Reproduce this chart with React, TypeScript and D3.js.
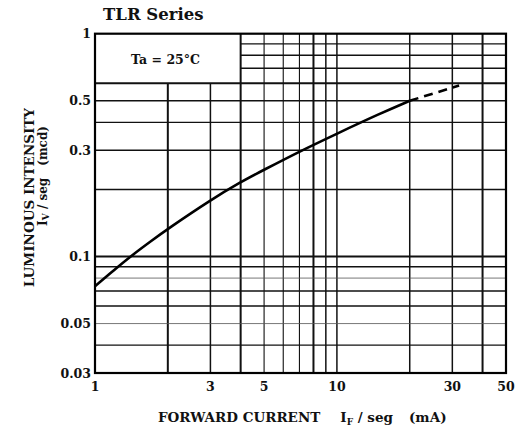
import { useMemo } from "react";
import * as d3 from "d3";

// forward current (mA) vs luminous intensity (mcd), log-log
const curveIF = [1, 1.2, 1.4, 1.7, 2, 3, 4, 5, 7, 10, 15, 20];
const curveIV = [0.0735, 0.087, 0.1, 0.117, 0.133, 0.179, 0.216, 0.245, 0.296, 0.356, 0.437, 0.5];
const dashIF = [20, 32];
const dashIV = [0.5, 0.585];

const xTicks = [1, 3, 5, 10, 30, 50];
const yTicks = [0.03, 0.05, 0.1, 0.3, 0.5, 1];
const xGrid = [2, 3, 4, 5, 6, 7, 8, 9, 10, 20, 30, 40];
const yGrid = [0.04, 0.05, 0.06, 0.07, 0.08, 0.09, 0.1, 0.2, 0.3, 0.4, 0.5, 0.6, 0.7, 0.8, 0.9];

const W = 518;
const H = 432;
const L = 95;
const R = 506;
const T = 33.7;
const B = 373;
const FONT = "'DejaVu Serif', 'Liberation Serif', serif";

// box corner for the Ta label (grid does not run through it)
const BOX_X = 4;
const BOX_Y = 0.6;

export default function App() {
  const x = useMemo(() => d3.scaleLog().domain([1, 50]).range([L, R]), []);
  const y = useMemo(() => d3.scaleLog().domain([0.03, 1]).range([B, T]), []);

  const gen = d3
    .line<[number, number]>()
    .x((d) => x(d[0]))
    .y((d) => y(d[1]))
    .curve(d3.curveBasis);

  const solid = gen(curveIF.map((v, i) => [v, curveIV[i]] as [number, number]));
  const dashed = gen(dashIF.map((v, i) => [v, dashIV[i]] as [number, number]));

  const vWidth = (v: number) => ([2, 4, 8, 40].includes(v) ? 2 : v === 3 || v >= 9 ? 1.5 : 1.1);
  const hWidth = (v: number) => (v === 0.1 || v === 0.6 ? 2 : v === 0.05 || v === 0.08 ? 0.8 : 1.4);

  return (
    <svg
      width={W}
      height={H}
      viewBox={`0 0 ${W} ${H}`}
      style={{ position: "absolute", left: 0, top: 0, background: "#fff" }}
      fontFamily={FONT}
    >
      {/* grid */}
      {xGrid.map((v) => (
        <line
          key={"vx" + v}
          x1={x(v)}
          x2={x(v)}
          y1={B}
          y2={v < BOX_X ? y(BOX_Y) : T}
          stroke="#111"
          strokeWidth={vWidth(v)}
        />
      ))}
      {yGrid.map((v) => (
        <line
          key={"hy" + v}
          x1={v > BOX_Y ? x(BOX_X) : L}
          x2={R}
          y1={y(v)}
          y2={y(v)}
          stroke={v === 0.05 || v === 0.08 ? "#555" : "#111"}
          strokeWidth={hWidth(v)}
        />
      ))}
      <rect x={L} y={T} width={R - L} height={B - T} fill="none" stroke="#000" strokeWidth={2.2} />

      {/* curve */}
      <path d={solid || ""} fill="none" stroke="#000" strokeWidth={2.6} />
      <path d={dashed || ""} fill="none" stroke="#000" strokeWidth={2.6} strokeDasharray="9 6" />

      {/* ticks */}
      {xTicks.map((v) => (
        <text key={"xt" + v} x={x(v)} y={391} textAnchor="middle" fontSize={12.5} fontWeight="bold" fill="#111">
          {v}
        </text>
      ))}
      {yTicks.map((v) => (
        <text key={"yt" + v} x={91} y={y(v) + 4.5} textAnchor="end" fontSize={12.5} fontWeight="bold" fill="#111">
          {v}
        </text>
      ))}

      <text x={103} y={20} fontSize={16.5} fontWeight="bold" fill="#111">
        TLR Series
      </text>
      <text x={131} y={64} fontSize={12.5} fontWeight="bold" fill="#111">
        Ta = 25°C
      </text>

      {/* axis titles */}
      <text x={158} y={422} fontSize={13.5} fontWeight="bold" fill="#111">
        FORWARD CURRENT
        <tspan dx={20}>I</tspan>
        <tspan fontSize={9} dy={3}>F</tspan>
        <tspan dy={-3}> / seg</tspan>
        <tspan dx={16}>(mA)</tspan>
      </text>
      <g transform="translate(34,108) rotate(-90)">
        <text x={0} y={0} textAnchor="end" fontSize={13.5} fontWeight="bold" fill="#111">
          LUMINOUS INTENSITY
        </text>
        <text x={-18} y={13} textAnchor="end" fontSize={12} fontWeight="bold" fill="#111">
          I<tspan fontSize={9} dy={2}>V</tspan>
          <tspan dy={-2}> / seg</tspan>
          <tspan dx={12}>(mcd)</tspan>
        </text>
      </g>
    </svg>
  );
}
